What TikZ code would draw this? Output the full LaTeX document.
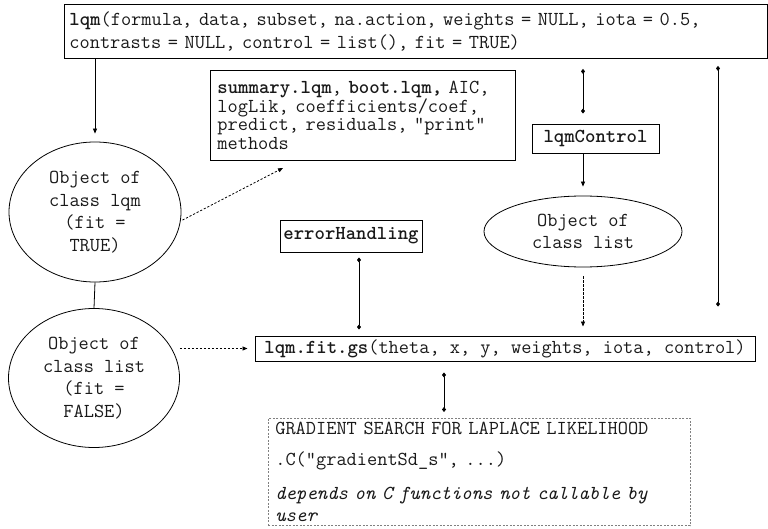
\documentclass[tikz,border=0pt]{standalone}
\usetikzlibrary{arrows.meta,shapes.geometric}
\definecolor{txtc}{RGB}{25,25,25}
\begin{document}
\begin{tikzpicture}[x=1pt,y=-1pt,
  txt/.style={font=\fontsize{19.8}{23}\selectfont\ttfamily, text=txtc},
  box/.style={draw, line width=0.9pt, txt},
  oval/.style={draw, ellipse, line width=0.8pt, txt, align=center, inner sep=0pt, font=\fontsize{19.8}{22.5}\selectfont\ttfamily},
  conn/.style={line width=0.8pt},
  tipend/.style={conn, -{Triangle[length=5pt,width=4pt]}},
  diaboth/.style={conn, {Diamond[length=5pt,width=4pt]}-{Diamond[length=5pt,width=4pt]}},
  dots/.style={dash pattern=on 2.2pt off 1.8pt}
]
\useasboundingbox (0,0) rectangle (768,529);

\node[box, anchor=north west, inner xsep=5pt, text width=693pt, minimum height=54pt, align=left] (top) at (64,4)
  {\textbf{lqm}(formula, data, subset, na.action, weights = NULL, iota = 0.5,\\contrasts = NULL, control = list(), fit = TRUE)};

\node[box, anchor=north west, inner xsep=7pt, text width=291pt, minimum height=90pt, align=left,
  font=\fontsize{19.8}{18.5}\selectfont\ttfamily] (summ) at (210,70)
  {\textbf{summary.lqm}, \textbf{boot.lqm,} AIC,\\logLik, coefficients/coef,\\predict, residuals, “print”\\methods};

\node[box, minimum width=127pt, minimum height=29pt, inner sep=0pt] (ctrl) at (595.5,138.5) {\textbf{lqmControl}};
\node[box, minimum width=142pt, minimum height=32pt, inner sep=0pt] (eh) at (351,236) {\textbf{errorHandling}};
\node[box, minimum width=500pt, minimum height=25pt, inner sep=0pt] (fit) at (505,348.5)
  {\textbf{lqm.fit.gs}(theta, x, y, weights, iota, control)};

\node[oval, minimum width=172pt, minimum height=140pt] (lqm) at (95,212) {Object of\\class lqm\\(fit =\\TRUE)};
\node[oval, minimum width=171pt, minimum height=139pt] (lst) at (94,378) {Object of\\class list\\(fit =\\FALSE)};
\node[oval, minimum width=198pt, minimum height=71pt] (cl) at (583,231.5) {Object of\\class list};

\node[draw=gray, line width=0.7pt, dash pattern=on 2pt off 1.5pt, txt, anchor=north west,
  inner xsep=7pt, inner ysep=4pt, text width=408pt, align=left, font=\fontsize{19.8}{22}\selectfont\ttfamily] (grad) at (268,418)
  {GRADIENT SEARCH FOR LAPLACE LIKELIHOOD\\[9pt]
   .C("gradientSd\_s", ...)\\[12pt]
   \textit{depends on C functions not callable by}\\
   \textit{user}};

\coordinate (cx) at (583,0);
\coordinate (rx) at (718,0);
\coordinate (ex) at (359,0);
\coordinate (gx) at (444,0);
\coordinate (sumin) at (283,168);

\draw[tipend, shorten >=8pt] (top.south -| lqm.north) -- (lqm.north);
\draw[conn] (lqm.south) -- (lst.north);
\draw[tipend, dots, shorten <=2pt] (lqm.-6) -- (sumin);
\draw[tipend, dots, shorten >=7pt] (fit.west -| lst.east) -- (fit.west);
\draw[diaboth, shorten <=10pt, shorten >=10pt] (top.south -| cx) -- (ctrl.north -| cx);
\draw[tipend, shorten >=9pt] (ctrl.south -| cx) -- (cl.north);
\draw[tipend, dots, shorten <=9pt, shorten >=9pt] (cl.south) -- (fit.north -| cl.south);
\draw[diaboth, shorten <=7pt, shorten >=29pt] (top.south -| rx) -- (fit.north -| rx);
\draw[diaboth, shorten <=5pt, shorten >=6pt] (eh.south -| ex) -- (fit.north -| ex);
\draw[diaboth, shorten <=11pt, shorten >=6pt] (fit.south -| gx) -- (grad.north -| gx);
\end{tikzpicture}
\end{document}
